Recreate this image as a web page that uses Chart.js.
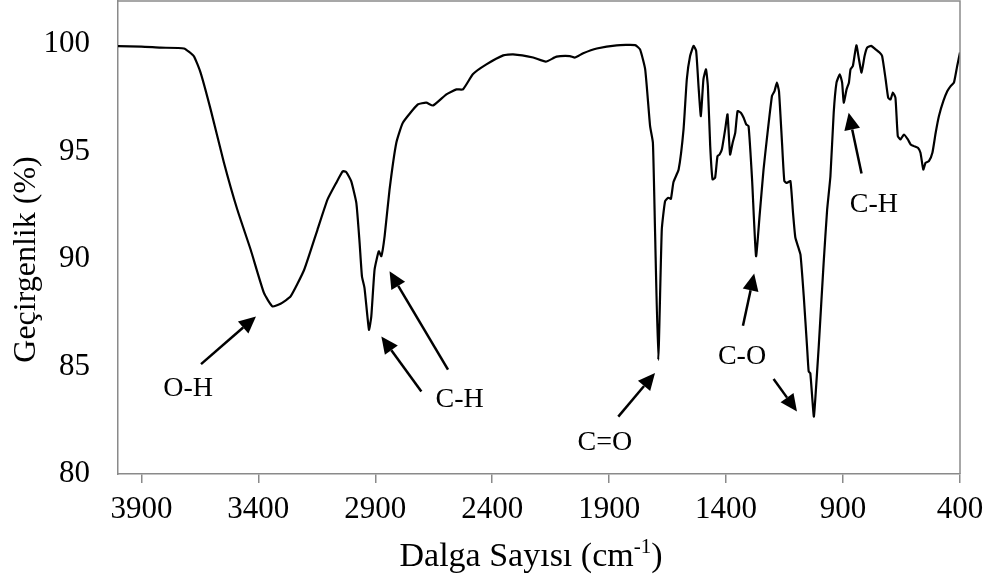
<!DOCTYPE html>
<html>
<head>
<meta charset="utf-8">
<script src="https://cdn.jsdelivr.net/npm/chart.js@4"></script>
<style>
  html, body { margin: 0; padding: 0; background: #fff; }
  #wrap { width: 990px; height: 584px; position: relative; }
</style>
</head>
<body>
<div id="wrap"><canvas id="ftir"></canvas></div>
<script>
// wavenumber (cm-1) and transmittance (%)
const waveNumbers = [
  4000, 3900, 3819, 3718, 3676, 3647, 3604, 3547, 3490, 3433, 3376, 3340, 3305, 3262, 3204, 3147,
  3104, 3067, 3039, 3024, 3003, 2981, 2967, 2957, 2946, 2927, 2917, 2903, 2885, 2874, 2860, 2839,
  2810, 2782, 2718, 2682, 2653, 2596, 2553, 2525, 2482, 2425, 2353, 2311, 2225, 2171, 2125, 2068,
  2046, 2011, 1953, 1868, 1789, 1768, 1746, 1725, 1713, 1704, 1690, 1675, 1661, 1647, 1636, 1625,
  1603, 1582, 1568, 1554, 1539, 1528, 1518, 1508, 1497, 1486, 1478, 1468, 1458, 1447, 1437, 1428,
  1418, 1404, 1394, 1383, 1372, 1361, 1351, 1337, 1325, 1314, 1304, 1289, 1272, 1257, 1240, 1226,
  1204, 1193, 1183, 1174, 1161, 1151, 1140, 1125, 1114, 1104, 1090, 1082, 1068, 1054, 1047, 1040,
  1025, 1018, 1004, 983, 968, 954, 940, 928, 914, 904, 897, 885, 875, 868, 858, 843,
  832, 821, 808, 797, 780, 761, 744, 733, 718, 707, 697, 687, 676, 666, 654, 640,
  623, 611, 597, 580, 569, 557, 547, 533, 518, 504, 490, 471, 454, 440, 426, 412, 400
];
const transmittance = [
  99.9, 99.88, 99.83, 99.79, 99.44, 98.67, 96.96, 94.48, 92.3, 90.44, 88.42, 87.8, 87.92, 88.26, 89.5, 91.37,
  92.77, 93.54, 94.08, 94.04, 93.62, 92.61, 90.75, 89.19, 88.65, 86.71, 87.33, 89.51, 90.36, 90.13, 91.06, 93.23,
  95.41, 96.34, 97.19, 97.27, 97.14, 97.66, 97.89, 97.89, 98.6, 99.05, 99.47, 99.52, 99.37, 99.18, 99.41, 99.44,
  99.37, 99.57, 99.79, 99.94, 99.95, 99.75, 98.82, 96.18, 95.41, 91.37, 85.31, 91.37, 92.69, 92.85, 92.8, 93.58,
  94.16, 96.03, 98.36, 99.44, 99.91, 99.67, 98.04, 96.65, 98.36, 98.82, 98.04, 95.25, 93.7, 93.78, 94.78, 94.86,
  95.1, 96.03, 96.73, 94.86, 95.41, 95.87, 96.88, 96.8, 96.57, 96.26, 96.18, 93.7, 90.13, 91.99, 94.16, 95.56,
  97.58, 97.81, 98.2, 97.81, 95.41, 93.62, 93.54, 93.62, 92.15, 91.0, 90.5, 90.2, 88.26, 85.93, 84.77, 84.69,
  82.67, 83.6, 85.93, 89.82, 92.3, 93.85, 96.8, 98.2, 98.59, 98.2, 97.27, 97.89, 98.2, 98.82, 98.98, 99.94,
  99.29, 98.67, 99.44, 99.83, 99.91, 99.75, 99.6, 99.44, 98.36, 97.5, 97.42, 97.74, 97.5, 95.72, 95.56, 95.79,
  95.56, 95.33, 95.25, 95.17, 94.94, 94.16, 94.48, 94.55, 94.94, 95.87, 96.65, 97.35, 97.81, 98.04, 98.2, 98.98, 99.6
];

const xTickValues = [3900, 3400, 2900, 2400, 1900, 1400, 900, 400];
const yTickValues = [80, 85, 90, 95, 100];

// band labels and their arrows, in data units (wavenumber, %)
const bandLabels = ["O-H", "C-H", "C=O", "C-O", "C-H"];
const bandLabelX = [3700, 2539, 1918, 1332, 768];
const bandLabelY = [83.95, 83.45, 81.45, 85.47, 92.53];
const arrowFrom = [[3645, 85.11], [2703, 83.84], [2589, 84.85], [1861, 82.67], [1328, 86.9], [1197, 84.42], [821, 93.98]];
const arrowTo = [[3410, 87.33], [2874, 86.4], [2839, 89.43], [1704, 84.7], [1280, 89.32], [1097, 82.91], [876, 96.8]];

const serif = "'Liberation Serif', 'Times New Roman', serif";
const axisGray = "#8a8a8a";

const points = waveNumbers.map((w, i) => ({ x: w, y: transmittance[i] }));

const framePlugin = {
  id: "frame",
  afterDraw(chart) {
    const { ctx, chartArea } = chart;
    ctx.save();
    ctx.strokeStyle = axisGray;
    ctx.lineWidth = 1.5;
    ctx.beginPath();
    ctx.moveTo(chartArea.left, chartArea.top);
    ctx.lineTo(chartArea.right, chartArea.top);
    ctx.lineTo(chartArea.right, chartArea.bottom);
    ctx.stroke();
    ctx.restore();
  },
};

const annotationPlugin = {
  id: "bands",
  afterDatasetsDraw(chart) {
    const { ctx } = chart;
    const xs = chart.scales.x;
    const ys = chart.scales.y;
    ctx.save();
    ctx.strokeStyle = "#000";
    ctx.fillStyle = "#000";
    ctx.lineWidth = 2.5;
    arrowFrom.forEach((from, i) => {
      const x0 = xs.getPixelForValue(from[0]);
      const y0 = ys.getPixelForValue(from[1]);
      const x1 = xs.getPixelForValue(arrowTo[i][0]);
      const y1 = ys.getPixelForValue(arrowTo[i][1]);
      const ang = Math.atan2(y1 - y0, x1 - x0);
      const headLen = 17;
      const headW = 8;
      const bx = x1 - headLen * Math.cos(ang);
      const by = y1 - headLen * Math.sin(ang);
      ctx.beginPath();
      ctx.moveTo(x0, y0);
      ctx.lineTo(bx, by);
      ctx.stroke();
      ctx.beginPath();
      ctx.moveTo(x1, y1);
      ctx.lineTo(bx + headW * Math.sin(ang), by - headW * Math.cos(ang));
      ctx.lineTo(bx - headW * Math.sin(ang), by + headW * Math.cos(ang));
      ctx.closePath();
      ctx.fill();
    });
    ctx.font = "28px " + serif;
    ctx.textAlign = "center";
    ctx.textBaseline = "middle";
    bandLabels.forEach((txt, i) => {
      ctx.fillText(txt, xs.getPixelForValue(bandLabelX[i]), ys.getPixelForValue(bandLabelY[i]));
    });
    ctx.restore();
  },
};

const titlePlugin = {
  id: "axisTitles",
  afterDraw(chart) {
    const { ctx, chartArea } = chart;
    ctx.save();
    ctx.fillStyle = "#000";
    // y title
    ctx.font = "32px " + serif;
    ctx.translate(27, (chartArea.top + chartArea.bottom) / 2 + 22);
    ctx.rotate(-Math.PI / 2);
    ctx.textAlign = "center";
    ctx.textBaseline = "middle";
    ctx.fillText("Geçirgenlik (%)", 0, 0);
    ctx.restore();

    // x title with superscript
    ctx.save();
    ctx.fillStyle = "#000";
    ctx.textBaseline = "alphabetic";
    const main = "Dalga Sayısı (cm";
    const sup = "-1";
    const tail = ")";
    ctx.font = "34px " + serif;
    const wMain = ctx.measureText(main).width;
    const wTail = ctx.measureText(tail).width;
    ctx.font = "21px " + serif;
    const wSup = ctx.measureText(sup).width;
    const total = wMain + wSup + wTail;
    let x = 531 - total / 2;
    const base = 566;
    ctx.textAlign = "left";
    ctx.font = "34px " + serif;
    ctx.fillText(main, x, base);
    x += wMain;
    ctx.font = "21px " + serif;
    ctx.fillText(sup, x, base - 13);
    x += wSup;
    ctx.font = "34px " + serif;
    ctx.fillText(tail, x, base);
    ctx.restore();
  },
};

new Chart(document.getElementById("ftir"), {
  type: "line",
  data: {
    datasets: [
      {
        data: points,
        borderColor: "#000",
        borderWidth: 2.2,
        pointRadius: 0,
        tension: 0.15,
        fill: false,
      },
    ],
  },
  options: {
    responsive: true,
    maintainAspectRatio: false,
    animation: false,
    layout: { padding: { left: 0, right: 30, top: 1, bottom: 0 } },
    plugins: {
      legend: { display: false },
      tooltip: { enabled: false },
    },
    scales: {
      x: {
        type: "linear",
        reverse: true,
        min: 400,
        max: 4000,
        afterBuildTicks: (scale) => {
          scale.ticks = xTickValues.map((v) => ({ value: v }));
        },
        afterFit: (scale) => {
          scale.height = 110;
          scale.paddingLeft = 0;
          scale.paddingRight = 0;
        },
        grid: {
          display: true,
          drawOnChartArea: false,
          drawTicks: true,
          tickLength: 9,
          color: axisGray,
          lineWidth: 1.5,
        },
        border: { display: true, color: axisGray, width: 1.5 },
        ticks: {
          color: "#000",
          font: { family: serif, size: 31 },
          padding: 8,
          maxRotation: 0,
          autoSkip: false,
          callback: (v) => String(v),
        },
      },
      y: {
        min: 80,
        max: 102,
        afterBuildTicks: (scale) => {
          scale.ticks = yTickValues.map((v) => ({ value: v }));
        },
        afterFit: (scale) => {
          scale.width = 118;
          scale.paddingTop = 0;
          scale.paddingBottom = 0;
        },
        grid: { display: false, drawTicks: false },
        border: { display: true, color: axisGray, width: 1.5 },
        ticks: {
          color: "#000",
          font: { family: serif, size: 31 },
          padding: 28,
          callback: (v) => String(v),
        },
      },
    },
  },
  plugins: [framePlugin, annotationPlugin, titlePlugin],
});
</script>
</body>
</html>
